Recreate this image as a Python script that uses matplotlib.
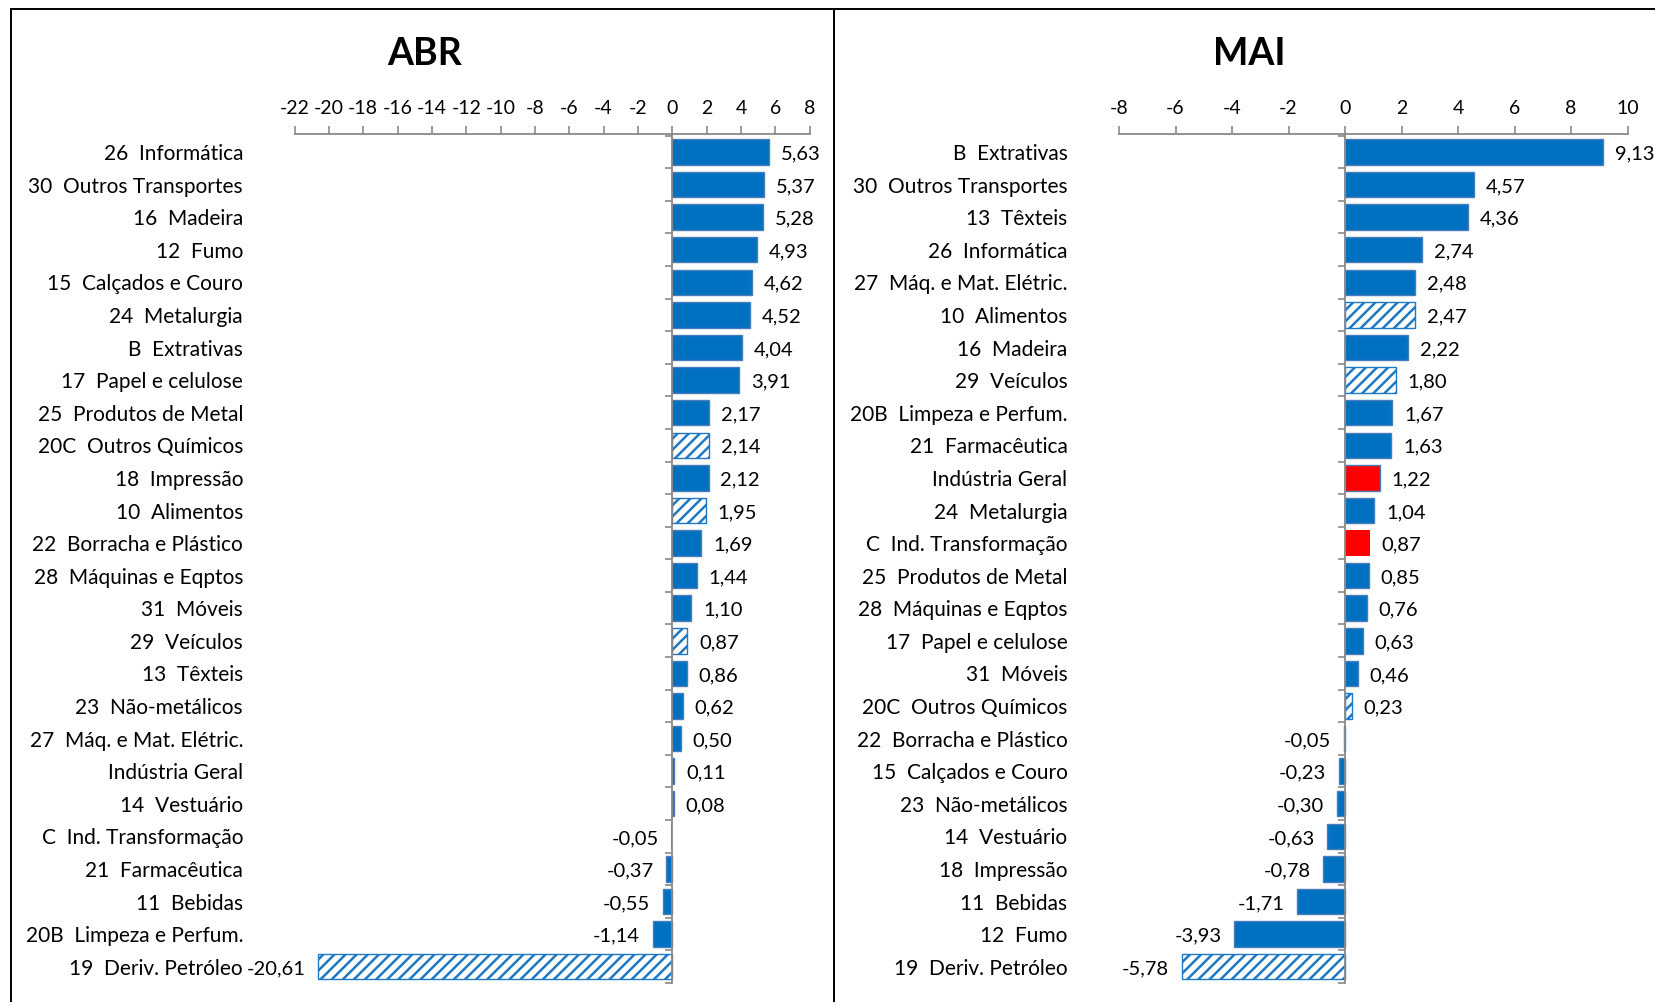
import matplotlib
matplotlib.use("Agg")
import matplotlib.pyplot as plt
from matplotlib.patches import Rectangle
from matplotlib.transforms import blended_transform_factory

plt.rcParams["font.family"] = ["Lato", "DejaVu Sans"]
plt.rcParams["hatch.linewidth"] = 1.8

# ABR (top to bottom)
abr_cats = [
    "26  Informática", "30  Outros Transportes", "16  Madeira", "12  Fumo",
    "15  Calçados e Couro", "24  Metalurgia", "B  Extrativas",
    "17  Papel e celulose", "25  Produtos de Metal", "20C  Outros Químicos",
    "18  Impressão", "10  Alimentos", "22  Borracha e Plástico",
    "28  Máquinas e Eqptos", "31  Móveis", "29  Veículos", "13  Têxteis",
    "23  Não-metálicos", "27  Máq. e Mat. Elétric.", "Indústria Geral",
    "14  Vestuário", "C  Ind. Transformação", "21  Farmacêutica",
    "11  Bebidas", "20B  Limpeza e Perfum.", "19  Deriv. Petróleo",
]
abr_vals = [5.63, 5.37, 5.28, 4.93, 4.62, 4.52, 4.04, 3.91, 2.17, 2.14,
            2.12, 1.95, 1.69, 1.44, 1.10, 0.87, 0.86, 0.62, 0.50, 0.11,
            0.08, -0.05, -0.37, -0.55, -1.14, -20.61]

# MAI (top to bottom)
mai_cats = [
    "B  Extrativas", "30  Outros Transportes", "13  Têxteis",
    "26  Informática", "27  Máq. e Mat. Elétric.", "10  Alimentos",
    "16  Madeira", "29  Veículos", "20B  Limpeza e Perfum.",
    "21  Farmacêutica", "Indústria Geral", "24  Metalurgia",
    "C  Ind. Transformação", "25  Produtos de Metal", "28  Máquinas e Eqptos",
    "17  Papel e celulose", "31  Móveis", "20C  Outros Químicos",
    "22  Borracha e Plástico", "15  Calçados e Couro", "23  Não-metálicos",
    "14  Vestuário", "18  Impressão", "11  Bebidas", "12  Fumo",
    "19  Deriv. Petróleo",
]
mai_vals = [9.13, 4.57, 4.36, 2.74, 2.48, 2.47, 2.22, 1.80, 1.67, 1.63,
            1.22, 1.04, 0.87, 0.85, 0.76, 0.63, 0.46, 0.23, -0.05, -0.23,
            -0.30, -0.63, -0.78, -1.71, -3.93, -5.78]

hatched = ["20C  Outros Químicos", "10  Alimentos", "29  Veículos", "19  Deriv. Petróleo"]

BLUE = "#0070C0"
GRAY = "#898989"

W, H = 1655, 1002
fig = plt.figure(figsize=(W / 100, H / 100), dpi=100)


def draw_panel(rect, cats, vals, xlim, xticks, title, title_x):
    ax = fig.add_axes(rect)
    for i, (c, v) in enumerate(zip(cats, vals)):
        if c in hatched:
            ax.barh(i, v, height=0.78, color="white", edgecolor="#1F78C4",
                    hatch="///", linewidth=1.0)
        elif c == "Indústria Geral":
            ax.barh(i, v, height=0.78, color="#FF0000", edgecolor="#4A7EBB", linewidth=1.0)
        elif c.startswith("C  Ind"):
            ax.barh(i, v, height=0.78, color="#FF0000", linewidth=0)
        else:
            ax.barh(i, v, height=0.78, color=BLUE, edgecolor="#4A7EBB", linewidth=1.0)

        txt = f"{v:.2f}".replace(".", ",")
        if v >= 0:
            ax.annotate(txt, (v, i), xytext=(8.5, -1.5), textcoords="offset points",
                        ha="left", va="center", fontsize=14.5, annotation_clip=False)
        else:
            ax.annotate(txt, (v, i), xytext=(-9, -1.5), textcoords="offset points",
                        ha="right", va="center", fontsize=14.5, annotation_clip=False)

    # category labels to the left of the plot area
    tr = blended_transform_factory(ax.transAxes, ax.transData)
    for i, c in enumerate(cats):
        ax.annotate(c, (0, i), xycoords=tr, xytext=(-37, -1.5), textcoords="offset points",
                    ha="right", va="center", fontsize=15, annotation_clip=False)

    ax.set_xlim(*xlim)
    ax.set_ylim(len(cats) - 0.5, -0.55)
    ax.set_xticks(xticks)
    ax.set_xticklabels([str(t) for t in xticks])
    ax.xaxis.tick_top()
    ax.tick_params(axis="x", direction="out", length=6, width=1.2, color=GRAY,
                   labelsize=14, pad=6)

    ax.set_yticks([i - 0.5 for i in range(len(cats) + 1)])
    ax.set_yticklabels([])
    ax.tick_params(axis="y", direction="out", length=5, width=1.2, color=GRAY)

    ax.spines["left"].set_position(("data", 0))
    ax.spines["left"].set_color(GRAY)
    ax.spines["left"].set_linewidth(1.3)
    ax.spines["top"].set_color(GRAY)
    ax.spines["top"].set_linewidth(1.3)
    ax.spines["right"].set_visible(False)
    ax.spines["bottom"].set_visible(False)
    ax.set_facecolor("none")

    fig.text(title_x / W, 1 - 54 / H, title, ha="center", va="center",
             fontsize=27, fontweight="bold")
    return ax


top = 1 - 134 / H
bottom = 1 - 983 / H
draw_panel([294.5 / W, bottom, (809.6 - 294.5) / W, top - bottom],
           abr_cats, abr_vals, (-22, 8), list(range(-22, 9, 2)), "ABR", 425)
draw_panel([1119 / W, bottom, (1627.6 - 1119) / W, top - bottom],
           mai_cats, mai_vals, (-8, 10), list(range(-8, 11, 2)), "MAI", 1249)

# panel borders
for x0, x1 in [(10.5, 834), (834, 1700)]:
    fig.patches.append(Rectangle((x0 / W, -0.05), (x1 - x0) / W, 1.05 - 8.5 / H,
                                 transform=fig.transFigure, fill=False,
                                 edgecolor="black", linewidth=1.4, clip_on=False))

fig.savefig("out.png", dpi=100)
